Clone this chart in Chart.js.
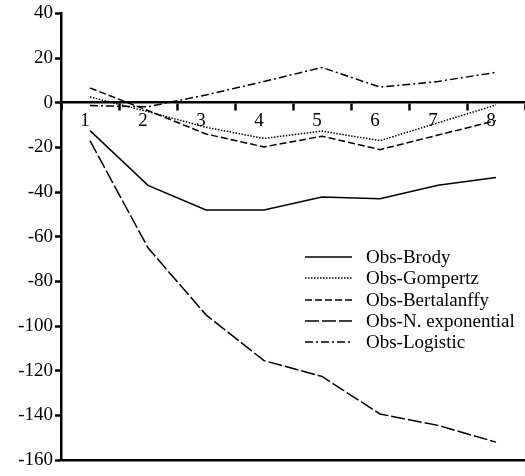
<!DOCTYPE html>
<html>
<head>
<meta charset="utf-8">
<script src="https://cdn.jsdelivr.net/npm/chart.js@4/dist/chart.umd.min.js"></script>
<style>
  html, body { margin: 0; padding: 0; background: #fff; }
  #wrap { width: 525px; height: 476px; }
</style>
</head>
<body>
<div id="wrap"><canvas id="growth-chart"></canvas></div>
<script>
var ages = ['1', '2', '3', '4', '5', '6', '7', '8'];
var brody = [-12.5, -37, -48, -48, -42.2, -43, -37, -33.5];
var gompertz = [2.6, -4, -11, -16, -12.7, -17, -9, -1];
var bertalanffy = [6.6, -3.5, -14, -19.8, -15, -21, -14.5, -8];
var nExponential = [-17, -65, -95, -115.5, -122.6, -139.4, -144.5, -152];
var logistic = [-1.3, -1.8, 3.5, 9.5, 15.8, 7, 9.5, 13.6];
var yMin = -160, yMax = 40, yStep = 20;

var serif = "'Liberation Serif', 'Times New Roman', serif";

function series(label, values, dash) {
    return {
        label: label,
        data: values,
        xAxisID: 'x',
        yAxisID: 'y',
        borderColor: '#000',
        borderWidth: 1.5,
        borderDash: dash,
        pointRadius: 0,
        tension: 0,
        fill: false
    };
}

// legend drawn inside the plot, like the original figure
var innerLegend = {
    id: 'innerLegend',
    afterDraw: function (chart) {
        var ctx = chart.ctx;
        var rows = [257, 278, 300, 321, 342];
        ctx.save();
        ctx.font = '19px ' + serif;
        ctx.fillStyle = '#000';
        ctx.textBaseline = 'middle';
        chart.data.datasets.forEach(function (ds, i) {
            var y = rows[i];
            ctx.beginPath();
            ctx.setLineDash(ds.borderDash);
            ctx.lineWidth = 1.5;
            ctx.strokeStyle = '#000';
            ctx.moveTo(305, y);
            ctx.lineTo(352, y);
            ctx.stroke();
            ctx.setLineDash([]);
            ctx.fillText(ds.label, 366, y + 1);
        });
        ctx.restore();
    }
};

var ctx = document.getElementById('growth-chart').getContext('2d');

var growthChart = new Chart(ctx, {
    type: 'line',
    data: {
        labels: ages,
        datasets: [
            series('Obs-Brody', brody, []),
            series('Obs-Gompertz', gompertz, [1.5, 1.5]),
            series('Obs-Bertalanffy', bertalanffy, [7, 3]),
            series('Obs-N. exponential', nExponential, [14, 3]),
            series('Obs-Logistic', logistic, [8, 3, 2, 3])
        ]
    },
    options: {
        responsive: true,
        maintainAspectRatio: false,
        animation: false,
        layout: { padding: { top: 13, bottom: 8, left: 0, right: 0 } },
        plugins: {
            legend: { display: false },
            tooltip: { enabled: false }
        },
        scales: {
            x: {
                type: 'category',
                position: { y: 0 },
                offset: true,
                grid: {
                    offset: true,
                    drawOnChartArea: false,
                    drawTicks: true,
                    tickLength: 7,
                    tickWidth: 2.5,
                    tickColor: '#000'
                },
                border: { display: true, color: '#000', width: 2.5 },
                ticks: {
                    color: '#000',
                    padding: 0,
                    labelOffset: -5,
                    maxRotation: 0,
                    font: { family: serif, size: 19 }
                }
            },
            xb: {
                type: 'category',
                position: 'bottom',
                offset: true,
                grid: { display: false },
                border: { display: true, color: '#000', width: 2.5 },
                ticks: { display: false }
            },
            y: {
                min: yMin,
                max: yMax,
                grid: {
                    drawOnChartArea: false,
                    drawTicks: true,
                    tickLength: 6,
                    tickWidth: 2.5,
                    tickColor: '#000'
                },
                border: { display: true, color: '#000', width: 2.5 },
                ticks: {
                    stepSize: yStep,
                    color: '#000',
                    padding: 2,
                    font: { family: serif, size: 19 }
                },
                afterFit: function (scale) { scale.width = 61; }
            }
        }
    },
    plugins: [innerLegend]
});
</script>
</body>
</html>
